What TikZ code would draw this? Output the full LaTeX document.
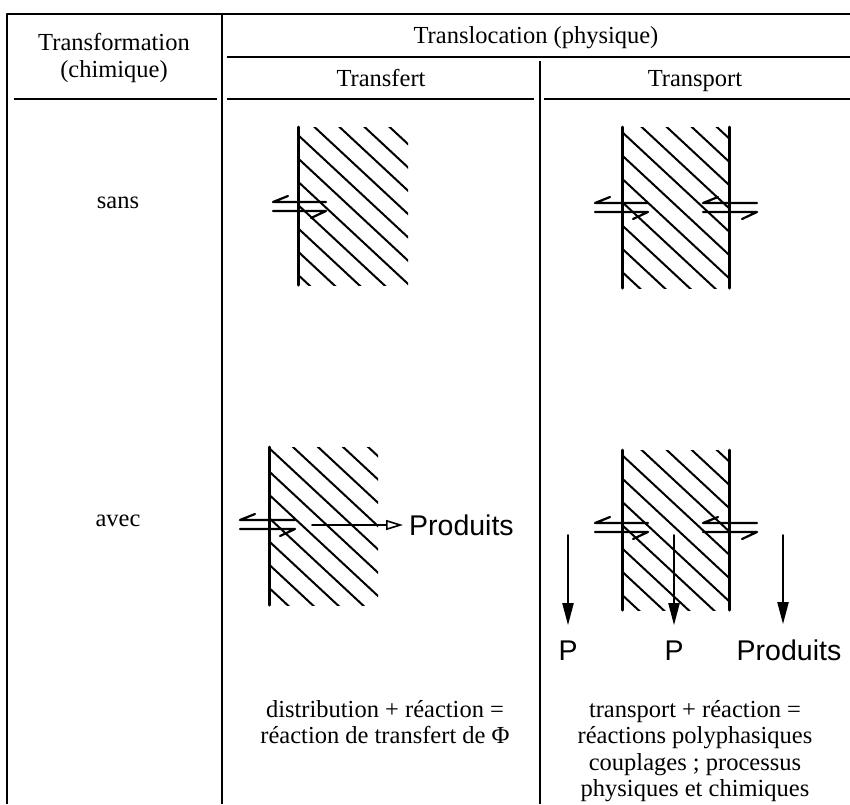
\documentclass[tikz,border=0pt]{standalone}
\usepackage{fontspec}
\setmainfont{Liberation Serif}
\newfontfamily\prodfont{Liberation Sans}
\usetikzlibrary{arrows.meta}

\begin{document}
\begin{tikzpicture}[x=1pt,y=-1pt,line cap=round,line join=round,
    rule/.style={line width=1.5pt,line cap=butt},
    hatch/.style={line width=2pt},
    membrane/.style={line width=3pt},
    eqline/.style={line width=2.2pt},
    darr/.style={line width=2pt,-{Triangle[length=22pt,width=11pt]}},
    harr/.style={line width=1.6pt,-{Triangle[open,length=17pt,width=10pt]}},
    txt/.style={font=\fontsize{24.5}{27}\selectfont,align=center,inner sep=0pt},
    capt/.style={txt,font=\fontsize{24.5}{26.5}\selectfont},
    lbl/.style={font=\prodfont\fontsize{28.5}{30}\selectfont,inner sep=0pt}]
\useasboundingbox (0,0) rectangle (850,804);

% table rules
\draw[rule] (850,14) -- (7,14) -- (7,804);
\draw[rule] (222,14) -- (222,804);
\draw[rule] (227,57) -- (850,57);
\draw[rule] (540,61) -- (540,804);
\draw[rule] (14,99) -- (217,99) (227,99) -- (534,99) (544,99) -- (850,99);

% headings
\node[txt,anchor=north] (chim) at (114,33) {Transformation\\(chimique)};
\node[txt,anchor=base] (transl) at (536,43) {Translocation (physique)};
\node[txt,anchor=base] (transf) at (381,86) {Transfert};
\node[txt,anchor=base] (transp) at (695,86) {Transport};
\node[txt,anchor=base] (sans) at (118,208) {sans};
\node[txt,anchor=base] (avec) at (118,526) {avec};

% hatched phases
\foreach \xa/\ya/\xb/\yb/\yo in {298/127/408/285/135, 622/127/729/288/132,
                                 269/447/378/605/448, 622/450/729/610/455} {
\begin{scope}
    \clip (\xa,\ya) rectangle (\xb,\yb);
    \foreach \k in {-6,...,7}
        \draw[hatch] (\xa,\yo+23.3*\k) -- ++(160,148.8);
\end{scope}
}

% phase boundaries
\foreach \x/\ya/\yb in {298/127/285, 622/127/288, 729/127/288,
                        269/447/605, 622/450/610, 729/450/610}
    \draw[membrane] (\x,\ya) -- (\x,\yb);

% equilibria across the boundaries
\foreach \xa/\xb/\y in {273/326/202, 595/648/203, 703/757/203,
                        240/295/520, 595/648/523, 703/757/523} {
    \draw[eqline] (\xa,\y) -- (\xb,\y) (\xa,\y) -- ++(15,-6);
    \draw[eqline] (\xa,\y+9) -- (\xb,\y+9) (\xb,\y+9) -- ++(-15,7);
}

% reaction products
\coordinate (r1) at (312,525);
\node[lbl,anchor=west] (prod1) at (409,525) {Produits};
\draw[harr,shorten >=6pt] (r1) -- (prod1);

\node[lbl,anchor=base] (p1) at (568,660) {P};
\node[lbl,anchor=base] (p2) at (674,660) {P};
\node[lbl,anchor=base] (prod2) at (789,660) {Produits};
\coordinate (a1) at (568,535);
\coordinate (a2) at (674,535);
\coordinate (a3) at (783,535);
\draw[darr,shorten >=15pt] (a1) -- (a1 |- p1.north);
\draw[darr,shorten >=15pt] (a2) -- (a2 |- p2.north);
\draw[darr,shorten >=15pt] (a3) -- (a3 |- prod2.north);

% captions
\node[capt,anchor=north] (cap1) at (385,700)
    {distribution + réaction =\\réaction de transfert de Φ};
\node[capt,anchor=north] (cap2) at (695,700)
    {transport + réaction =\\réactions polyphasiques\\couplages ; processus\\physiques et chimiques};
\end{tikzpicture}
\end{document}
